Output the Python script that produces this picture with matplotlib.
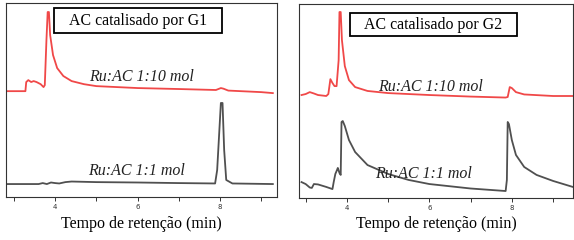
import numpy as np
import matplotlib.pyplot as plt
from matplotlib.patches import Rectangle

# retention time (min) and signal (arb. units)
g1_red_t = [2.83, 3.28, 3.30, 3.35, 3.42, 3.48, 3.55, 3.65, 3.72, 3.75, 3.79, 3.82, 3.85, 3.88,
            3.95, 4.05, 4.2, 4.4, 4.7, 5.0, 6.0, 7.0, 7.9, 8.02, 8.08, 8.2, 9.0, 9.28]
g1_red_y = [54.6, 54.6, 59.3, 60.3, 59.3, 59.8, 59.3, 58.2, 56.7, 57.7, 80.9, 95.4, 95.4, 83.5,
            73.2, 66.5, 62.4, 59.8, 58.2, 57.2, 56.2, 55.7, 55.2, 56.2, 55.9, 54.9, 54.1, 53.6]
g1_blk_t = [2.83, 3.6, 3.7, 3.8, 3.9, 4.0, 4.1, 4.25, 4.4, 5.0, 6.0, 7.0, 7.88, 7.93,
            8.02, 8.06, 8.1, 8.15, 8.3, 9.28]
g1_blk_y = [6.7, 6.7, 7.2, 6.7, 7.5, 7.2, 7.0, 7.7, 8.0, 7.7, 7.5, 7.2, 7.0, 13.9,
            48.5, 48.5, 24.2, 8.8, 7.0, 6.7]

g2_red_t = [2.9, 3.0, 3.1, 3.2, 3.3, 3.5, 3.55, 3.6, 3.65, 3.7, 3.75, 3.8, 3.82, 3.85, 3.88,
            3.95, 4.05, 4.2, 4.5, 5.0, 6.0, 7.0, 7.85, 7.9, 7.95, 8.0, 8.1, 8.3, 9.0, 9.48]
g2_red_y = [53.1, 53.6, 54.6, 53.9, 53.1, 52.6, 53.6, 61.3, 59.3, 57.7, 57.7, 71.1, 95.9, 95.9, 81.4,
            68.0, 60.8, 57.2, 55.2, 54.1, 53.1, 52.3, 51.8, 52.1, 57.2, 56.7, 54.6, 53.4, 52.6, 52.6]
g2_blk_t = [2.9, 3.0, 3.1, 3.15, 3.2, 3.3, 3.5, 3.65, 3.68, 3.72, 3.76, 3.78, 3.82, 3.85, 3.87,
            3.90, 3.95, 4.05, 4.2, 4.5, 5.0, 5.5, 6.0, 7.0, 7.85, 7.88, 7.9, 7.93, 8.0, 8.1,
            8.3, 8.6, 9.0, 9.48]
g2_blk_y = [8.2, 7.2, 5.4, 5.2, 7.2, 7.0, 5.7, 4.6, 8.2, 12.4, 14.4, 15.5, 12.9, 11.9, 39.2,
            39.7, 37.1, 29.9, 23.7, 17.0, 12.4, 9.3, 7.2, 4.9, 3.6, 9.3, 39.2, 38.1, 29.9, 22.2,
            16.0, 11.9, 8.8, 5.7]

titles = ['AC catalisado por G1', 'AC catalisado por G2']
label_hi = 'Ru:AC 1:10 mol'
label_lo = 'Ru:AC 1:1 mol'
xlabel = 'Tempo de retenção (min)'

red = '#f04848'
grey = '#505050'
serif = ['Liberation Serif', 'DejaVu Serif']

fig = plt.figure(figsize=(5.74, 2.40), dpi=100)
ax1 = fig.add_axes([0.0105, 0.179, 0.472, 0.808])
ax2 = fig.add_axes([0.521, 0.175, 0.477, 0.808])

panels = [
    (ax1, g1_red_t, g1_red_y, g1_blk_t, g1_blk_y, (2.81, 9.38), titles[0],
     (0.177, 0.845, 0.62, 0.129), (0.50, 0.62), (0.48, 0.135)),
    (ax2, g2_red_t, g2_red_y, g2_blk_t, g2_blk_y, (2.84, 9.48), titles[1],
     (0.186, 0.835, 0.609, 0.119), (0.48, 0.57), (0.455, 0.125)),
]

for ax, rt, ry, bt, by, xl, title, box, hpos, lpos in panels:
    ax.plot(rt, ry, color=red, lw=1.3)
    ax.plot(bt, by, color=grey, lw=1.3)
    ax.set_xlim(*xl)
    ax.set_ylim(0, 100)
    ax.set_yticks([])
    ax.set_xticks([4, 6, 8])
    ax.set_xticks([3, 5, 7, 9], minor=True)
    ax.tick_params(axis='x', which='both', direction='out', length=3, width=0.7,
                   labelsize=5, pad=2, colors='#333333')
    for s in ax.spines.values():
        s.set_linewidth(0.8)
        s.set_color('#333333')
    ax.set_xlabel(xlabel, family=serif, fontsize=11.5, labelpad=4)
    bx, by0, bw, bh = box
    ax.add_patch(Rectangle((bx, by0), bw, bh, transform=ax.transAxes, fc='white',
                           ec='black', lw=1.3, zorder=3))
    ax.text(bx + bw / 2, by0 + bh / 2, title, transform=ax.transAxes, family=serif,
            fontsize=11.4, ha='center', va='center', zorder=4)
    ax.text(hpos[0], hpos[1], label_hi, transform=ax.transAxes, family=serif,
            style='italic', fontsize=11.5, ha='center', va='center', color='#222222')
    ax.text(lpos[0], lpos[1], label_lo, transform=ax.transAxes, family=serif,
            style='italic', fontsize=11.5, ha='center', va='center', color='#222222')

fig.savefig('out.png', dpi=100)
